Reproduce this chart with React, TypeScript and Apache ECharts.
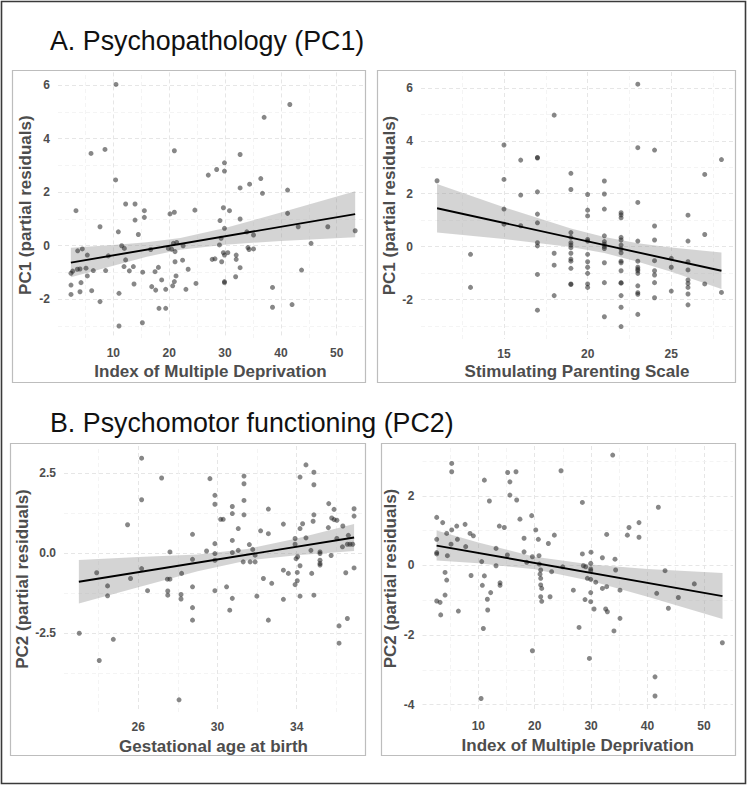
import React, { useEffect, useRef } from "react";
import * as echarts from "echarts";

const FONT = "'Liberation Sans', Arial, Helvetica, sans-serif";

// ---------------- Panel A1: Index of Multiple Deprivation vs PC1 ----------------
const imdPc1Points: number[][] = [
  [10.48, 6.03], [6.01, 3.45], [8.51, 3.6], [10.42, 2.46], [3.32, 1.31], [12.21, 1.56], [13.89, 1.56],
  [15.56, 1.31], [15.56, 1.06], [13.89, 0.96], [20.15, 1.19], [20.93, 1.25], [20.93, 3.55], [7.62, 0.71],
  [10.9, 0.52], [14.48, 0.42], [3.62, -0.19], [4.45, -0.12], [5.35, -0.35], [9.11, -0.38], [11.5, 0.0],
  [11.98, -0.1], [12.21, -0.53], [2.43, -1.03], [2.72, -0.95], [3.56, -0.88], [4.04, -0.87], [5.11, -0.84],
  [6.42, -0.93], [5.35, -1.13], [8.63, -0.93], [11.92, -0.78], [12.87, -0.94], [13.59, -0.78], [15.26, -0.99],
  [2.43, -1.47], [4.22, -1.38], [6.13, -1.68], [4.04, -1.72], [2.43, -1.82], [7.62, -2.09], [11.02, -1.78],
  [13.71, -1.43], [16.88, -1.53], [17.59, -1.66], [19.38, -1.63], [18.66, -1.28], [17.47, -0.97], [18.07, -0.81],
  [20.63, -1.5], [20.93, -1.34], [21.23, -1.13], [19.85, -0.1], [20.45, -0.13], [20.75, 0.09], [21.05, -0.22],
  [21.35, 0.12], [16.69, -0.14], [18.18, -2.34], [19.38, -2.34], [11.02, -3.0], [15.2, -2.88], [21.05, -0.6],
  [41.6, 5.28], [37.0, 4.8], [32.7, 3.41], [29.9, 3.1], [28.5, 2.85], [29.9, 2.79], [27.0, 2.64], [36.4, 2.51],
  [34.4, 2.3], [32.7, 2.16], [36.7, 1.96], [41.2, 2.08], [24.6, 1.33], [29.7, 1.42], [30.8, 1.31], [29.1, 0.94],
  [32.7, 1.0], [29.9, 0.65], [41.2, 1.21], [43.1, 0.71], [48.4, 0.71], [53.3, 0.56], [33.9, 0.52], [35.1, 0.4],
  [29.3, 0.28], [29.0, 0.03], [22.5, 0.0], [45.4, 0.09], [29.7, -0.26], [30.5, -0.26], [29.9, -0.35], [32.0, -0.35],
  [32.0, -0.51], [34.1, -0.07], [34.3, -0.14], [35.1, -0.12], [27.7, -0.51], [28.2, -0.49], [29.4, -0.6],
  [22.4, -0.54], [23.4, -0.88], [32.7, -0.82], [43.7, -0.91], [31.9, -1.16], [29.9, -1.34], [29.9, -1.38],
  [24.8, -1.41], [23.0, -1.63], [38.5, -1.56], [38.5, -2.3], [42.0, -2.2],
];
const imdPc1FitX = [2.4, 53.3];
const imdPc1FitY = [-0.63, 1.18];
const imdPc1BandX = [2.4, 10, 16, 22, 30, 40, 53.3];
const imdPc1BandLow = [-1.18, -0.75, -0.41, -0.15, 0.04, 0.18, 0.32];
const imdPc1BandHigh = [-0.08, 0.03, 0.13, 0.29, 0.66, 1.24, 2.04];

// ---------------- Panel A2: Stimulating Parenting Scale vs PC1 ----------------
const spsPc1Points: number[][] = [
  [11, 2.49],
  [13, -0.29], [13, -1.54],
  [15, 3.84], [15, 2.54], [15, 1.42], [15, 0.85],
  [16, 3.27], [16, 1.95], [16, 0.79],
  [17, 3.37], [17, 3.35], [17, 2.07], [17, 1.23], [17, 0.9], [17, 0.15], [17, 0.03], [17, -1.05], [17, -2.4],
  [18, 4.97], [18, -0.25], [18, -0.7], [18, -1.85],
  [19, 2.77], [19, 2.16], [19, 0.53], [19, 0.35], [19, 0.15], [19, 0.06], [19, -0.04], [19, -0.25], [19, -0.47],
  [19, -0.55], [19, -0.82], [19, -1.41], [19, -1.43],
  [20, 1.97], [20, 1.38], [20, 1.16], [20, 0.27], [20, 0.21], [20, -0.29], [20, -0.57], [20, -0.78], [20, -1.01],
  [20, -1.41], [20, -1.54],
  [21, 2.48], [21, 1.99], [21, 1.42], [21, 0.41], [21, 0.19], [21, 0.09], [21, 0.0], [21, -0.07], [21, -0.61],
  [21, -1.36], [21, -2.65],
  [22, 1.28], [22, 1.2], [22, 1.09], [22, 0.35], [22, 0.25], [22, 0.06], [22, -0.09], [22, -0.23], [22, -0.55],
  [22, -0.61], [22, -0.91], [22, -1.36], [22, -1.38], [22, -1.85], [22, -2.29], [22, -3.02],
  [23, 6.14], [23, 3.74], [23, 1.67], [23, 0.21], [23, -0.55], [23, -0.78], [23, -0.85], [23, -0.91], [23, -1.01],
  [23, -1.48], [23, -1.74], [23, -1.8], [23, -2.56],
  [24, 3.65], [24, 0.78], [24, 0.25], [24, -0.53], [24, -0.91], [24, -1.07], [24, -1.36], [24, -1.93],
  [25, -0.44], [25, -0.78], [25, -1.68],
  [26, 1.19], [26, 0.21], [26, -0.57], [26, -0.88], [26, -1.26], [26, -1.39], [26, -1.54], [26, -1.79], [26, -2.2],
  [27, 2.73], [27, 0.46], [27, -1.41],
  [28, 3.29], [28, -1.73],
];
const spsPc1FitX = [11, 28];
const spsPc1FitY = [1.45, -0.91];
const spsPc1BandX = [11, 15, 19, 21, 23, 25, 28];
const spsPc1BandLow = [0.53, 0.29, -0.01, -0.24, -0.57, -0.95, -1.6];
const spsPc1BandHigh = [2.37, 1.49, 0.69, 0.36, 0.13, -0.03, -0.22];

// ---------------- Panel B1: Gestational age vs PC2 ----------------
const gaPc2Points: number[][] = [
  [26.17, 2.97], [27.18, 2.35], [26.17, 1.67], [25.46, 0.89], [28.74, 0.59], [27.6, 0.04], [28.74, -0.19],
  [23.9, -0.61], [26.17, -0.48], [28.19, -0.63], [25.61, -0.79], [27.47, -0.81], [27.6, -0.81], [24.45, -1.02],
  [24.45, -1.33], [26.47, -1.17], [27.49, -1.18], [27.49, -1.31], [28.16, -1.29], [28.16, -1.43], [28.74, -1.05],
  [28.74, -1.7], [28.74, -2.09], [23.02, -2.5], [24.74, -2.69], [24.03, -3.35], [28.06, -4.58],
  [34.47, 2.76], [34.87, 2.53], [34.17, 2.38], [34.87, 2.14], [29.62, 2.33], [31.34, 2.41], [31.34, 2.17],
  [29.87, 1.81], [29.87, 1.53], [31.34, 1.65], [30.75, 1.46], [30.75, 1.24], [31.34, 1.2], [32.57, 1.38],
  [30.16, 1.06], [30.29, 1.06], [31.05, 0.77], [32.18, 0.7], [32.57, 0.61], [33.33, 0.91], [34.17, 0.77],
  [34.3, 0.92], [34.83, 1.0], [34.87, 1.2], [35.62, 1.55], [35.89, 1.37], [35.77, 1.1], [35.89, 1.05],
  [36.03, 1.03], [35.6, 0.8], [36.33, 0.85], [36.9, 1.39], [36.9, 1.16], [29.45, 0.07], [29.87, 0.3],
  [29.87, -0.01], [29.87, -0.22], [30.75, 0.4], [30.75, 0.02], [31.05, 0.09], [31.3, -0.27], [31.61, 0.27],
  [31.78, 0.12], [31.65, -0.27], [31.9, -0.06], [31.9, -0.27], [33.33, -0.53], [33.58, -0.63], [33.92, 0.46],
  [33.92, 0.28], [33.97, -0.17], [34.05, -0.11], [34.17, -0.39], [34.03, -0.6], [34.03, -0.86], [33.92, -0.98],
  [34.47, 0.48], [34.72, 0.09], [34.76, -0.63], [35.18, 0.04], [35.18, -0.01], [35.18, -0.22], [35.18, -0.32],
  [35.18, -0.37], [35.74, -0.07], [36.03, 0.46], [36.31, 0.2], [36.56, 0.28], [36.69, 0.28], [36.83, 0.28],
  [36.61, 0.56], [36.48, -0.61], [36.9, -0.46], [32.32, -0.79], [32.74, -0.94], [30.46, -1.05], [31.99, -1.34],
  [30.75, -1.41], [29.87, -1.17], [30.62, -1.78], [33.33, -1.44], [34.17, -1.34], [34.87, -1.31], [32.57, -2.09],
  [36.14, -2.27], [36.56, -2.04], [36.14, -2.81],
];
const gaPc2FitX = [23, 36.9];
const gaPc2FitY = [-0.89, 0.49];
const gaPc2BandX = [23, 26, 29, 31.5, 34, 36.9];
const gaPc2BandLow = [-1.57, -1.06, -0.56, -0.23, -0.06, 0.07];
const gaPc2BandHigh = [-0.21, -0.12, -0.04, 0.13, 0.46, 0.91];

// ---------------- Panel B2: Index of Multiple Deprivation vs PC2 ----------------
const imdPc2Points: number[][] = [
  [5.28, 2.93], [5.28, 2.69], [11.07, 2.45], [15.2, 2.67], [16.68, 2.69], [15.6, 2.4], [15.6, 2.02], [16.8, 1.88],
  [11.96, 1.85], [2.62, 1.38], [3.68, 1.23], [5.28, 1.02], [6.17, 1.13], [7.65, 1.18], [4.39, 0.92], [8.53, 0.92],
  [9.12, 0.85], [6.29, 0.75], [2.62, 0.75], [13.72, 1.13], [14.6, 1.09], [17.38, 1.33], [19.46, 1.43], [20.18, 1.02],
  [18.11, 0.78], [20.64, 0.75], [23.48, 0.87], [22.42, 0.63], [5.16, 0.61], [7.76, 0.54], [2.62, 0.37], [2.62, 0.33],
  [4.51, 0.28], [13.14, 0.49], [15.15, 0.3], [18.11, 0.39], [19.58, 0.25], [20.76, 0.28], [18.58, 0.09], [10.6, 0.11],
  [20.82, 0.04], [21.06, -0.13], [20.94, -0.25], [21.06, -0.37], [21.06, -0.56], [21.24, -0.66], [21.06, -0.9],
  [21.24, -1.03], [22.72, -0.9], [23.0, -0.18], [24.96, -0.04], [13.14, -0.01], [4.1, -0.2], [4.39, -0.42],
  [4.1, -0.85], [2.62, -1.02], [3.22, -1.06], [3.33, -1.42], [6.46, -1.31], [8.71, -0.29], [11.07, -0.3],
  [13.85, -0.5], [13.85, -0.57], [10.71, -0.57], [12.19, -0.78], [11.6, -0.97], [11.66, -1.28], [10.89, -1.81],
  [19.58, -2.45], [10.49, -3.82],
  [24.66, 2.72], [33.83, 3.17], [28.45, 1.81], [41.92, 1.67], [38.49, 1.23], [36.72, 1.09], [36.43, 0.87],
  [38.49, 0.81], [32.76, 0.89], [28.45, 0.33], [29.98, 0.38], [28.63, -0.01], [29.05, -0.04], [29.93, 0.06],
  [29.93, -0.1], [29.93, -0.15], [32.0, 0.22], [34.24, 0.18], [34.35, -0.13], [29.33, -0.37], [29.93, -0.4],
  [30.82, -0.48], [32.0, -0.66], [32.76, -0.61], [26.85, -0.71], [29.93, -0.78], [35.12, -0.71], [28.92, -0.98],
  [29.93, -1.04], [30.52, -1.25], [32.58, -1.25], [32.88, -1.33], [35.12, -1.52], [27.86, -1.78], [34.05, -1.88],
  [43.11, -0.15], [48.3, -0.53], [41.63, -0.8], [45.47, -0.92], [43.7, -1.23], [53.27, -2.22], [29.69, -2.67],
  [41.33, -3.2], [41.33, -3.75],
];
const imdPc2FitX = [2.6, 53.3];
const imdPc2FitY = [0.57, -0.88];
const imdPc2BandX = [2.6, 10, 20, 30, 40, 53.3];
const imdPc2BandLow = [0.14, 0.06, -0.11, -0.45, -0.9, -1.54];
const imdPc2BandHigh = [1.0, 0.66, 0.25, 0.03, -0.1, -0.22];

// ---------------- Texts and ticks ----------------
const sectionTitles = ["A. Psychopathology (PC1)", "B. Psychomotor functioning (PC2)"];
const xNames = [
  "Index of Multiple Deprivation",
  "Stimulating Parenting Scale",
  "Gestational age at birth",
  "Index of Multiple Deprivation",
];
const yNames = [
  "PC1 (partial residuals)",
  "PC1 (partial residuals)",
  "PC2 (partial residuals)",
  "PC2 (partial residuals)",
];
const xTicks = [[10, 20, 30, 40, 50], [15, 20, 25], [26, 30, 34], [10, 20, 30, 40, 50]];
const yTicks = [[-2, 0, 2, 4, 6], [-2, 0, 2, 4, 6], [-2.5, 0, 2.5], [-4, -2, 0, 2]];
const xMinor = [[5, 15, 25, 35, 45], [12.5, 17.5, 22.5, 27.5], [24, 28, 32, 36], [5, 15, 25, 35, 45]];
const yMinor = [[-3, -1, 1, 3, 5], [-3, -1, 1, 3, 5], [-3.75, -1.25, 1.25], [-3, -1, 1, 3]];
const yDecimals = [0, 0, 1, 0];

// ---------------- Layout (pixels / axis extents) ----------------
const layout = [
  { left: 58, top: 72.4, width: 305, height: 265.6, xMin: 0.1, xMax: 54.7, yMin: -3.45, yMax: 6.48, yGap: 24.5, xGap: 25, box: [12, 70, 353, 312] },
  { left: 421, top: 72, width: 312, height: 267, xMin: 10.04, xMax: 28.69, yMin: -3.49, yMax: 6.6, yGap: 21, xGap: 24, box: [377, 70, 358, 312] },
  { left: 64, top: 446, width: 299, height: 266, xMin: 22.25, xMax: 37.35, yMin: -4.96, yMax: 3.35, yGap: 30.5, xGap: 26, box: [10, 443, 355, 312] },
  { left: 422.5, top: 446, width: 310.5, height: 265, xMin: 0.1, xMax: 55.16, yMin: -4.18, yMax: 3.43, yGap: 24, xGap: 25.5, box: [381, 443, 354, 312] },
];

const panelPoints = [imdPc1Points, spsPc1Points, gaPc2Points, imdPc2Points];
const panelFitX = [imdPc1FitX, spsPc1FitX, gaPc2FitX, imdPc2FitX];
const panelFitY = [imdPc1FitY, spsPc1FitY, gaPc2FitY, imdPc2FitY];
const panelBandX = [imdPc1BandX, spsPc1BandX, gaPc2BandX, imdPc2BandX];
const panelBandLow = [imdPc1BandLow, spsPc1BandLow, gaPc2BandLow, imdPc2BandLow];
const panelBandHigh = [imdPc1BandHigh, spsPc1BandHigh, gaPc2BandHigh, imdPc2BandHigh];

function buildOption() {
  const grid: any[] = [];
  const xAxis: any[] = [];
  const yAxis: any[] = [];
  const series: any[] = [];
  const graphic: any[] = [];

  layout.forEach((L, i) => {
    grid.push({ left: L.left, top: L.top, width: L.width, height: L.height, containLabel: false });
    xAxis.push({
      type: "value",
      gridIndex: i,
      min: L.xMin,
      max: L.xMax,
      axisLine: { show: false },
      axisTick: { show: false, customValues: xTicks[i] },
      axisLabel: {
        customValues: xTicks[i],
        color: "#4d4d4d",
        fontWeight: "bold",
        fontSize: 12,
        fontFamily: FONT,
        margin: 9,
      },
      splitLine: { show: true, lineStyle: { color: "#e6e6e6", type: [4, 3], width: 1 } },
      name: xNames[i],
      nameLocation: "middle",
      nameGap: L.xGap,
      nameTextStyle: { color: "#4d4d4d", fontWeight: "bold", fontSize: 17, fontFamily: FONT },
    });
    yAxis.push({
      type: "value",
      gridIndex: i,
      min: L.yMin,
      max: L.yMax,
      axisLine: { show: false },
      axisTick: { show: false, customValues: yTicks[i] },
      axisLabel: {
        customValues: yTicks[i],
        color: "#4d4d4d",
        fontWeight: "bold",
        fontSize: 12,
        fontFamily: FONT,
        margin: 8,
        formatter: (v: number) => v.toFixed(yDecimals[i]),
      },
      splitLine: { show: true, lineStyle: { color: "#e6e6e6", type: [4, 3], width: 1 } },
      name: yNames[i],
      nameLocation: "middle",
      nameGap: L.yGap,
      nameRotate: 90,
      nameTextStyle: { color: "#4d4d4d", fontWeight: "bold", fontSize: 17, fontFamily: FONT },
    });

    const bx = panelBandX[i];
    const bl = panelBandLow[i];
    const bh = panelBandHigh[i];
    const bandRows = bx.map((x, k) => [x, bl[k], bh[k]]);

    series.push({
      type: "custom",
      xAxisIndex: i,
      yAxisIndex: i,
      silent: true,
      data: bandRows,
      encode: { x: 0, y: [1, 2] },
      renderItem: (params: any, api: any) => {
        if (params.dataIndex !== 0) return null;
        const pts: number[][] = [];
        for (let k = 0; k < bandRows.length; k++) pts.push(api.coord([bandRows[k][0], bandRows[k][1]]));
        for (let k = bandRows.length - 1; k >= 0; k--) pts.push(api.coord([bandRows[k][0], bandRows[k][2]]));
        return { type: "polygon", shape: { points: pts }, style: { fill: "rgba(153,153,153,0.42)", stroke: "none" } };
      },
      z: 2,
      markLine: {
        silent: true,
        z: 1,
        symbol: ["none", "none"],
        label: { show: false },
        lineStyle: { color: "#f1f1f1", type: [4, 3], width: 0.8 },
        data: [
          ...xMinor[i].map((v) => ({ xAxis: v })),
          ...yMinor[i].map((v) => ({ yAxis: v })),
        ],
        animation: false,
      },
    });

    series.push({
      type: "scatter",
      xAxisIndex: i,
      yAxisIndex: i,
      data: panelPoints[i],
      symbol: "circle",
      symbolSize: 5,
      itemStyle: { color: "rgba(35,35,35,0.68)" },
      silent: true,
      z: 3,
    });

    series.push({
      type: "line",
      xAxisIndex: i,
      yAxisIndex: i,
      data: panelFitX[i].map((x, k) => [x, panelFitY[i][k]]),
      showSymbol: false,
      symbol: "none",
      lineStyle: { color: "#000", width: 1.9 },
      silent: true,
      z: 4,
    });

    const b = L.box;
    graphic.push({
      type: "rect",
      shape: { x: b[0] + 0.5, y: b[1] + 0.5, width: b[2], height: b[3] },
      style: { fill: "none", stroke: "#bdbdbd", lineWidth: 1.2 },
      silent: true,
      z: 0,
    });
  });

  graphic.push({
    type: "rect",
    shape: { x: 1.5, y: 1.5, width: 744, height: 782 },
    style: { fill: "none", stroke: "#3a3a3a", lineWidth: 1.6 },
    silent: true,
  });
  graphic.push({
    type: "text",
    x: 50,
    y: 41,
    style: { text: sectionTitles[0], fontSize: 26.8, fontFamily: FONT, fill: "#111", verticalAlign: "middle", align: "left" },
    silent: true,
  });
  graphic.push({
    type: "text",
    x: 50,
    y: 423,
    style: { text: sectionTitles[1], fontSize: 26.8, fontFamily: FONT, fill: "#111", verticalAlign: "middle", align: "left" },
    silent: true,
  });

  return {
    animation: false,
    backgroundColor: "#ffffff",
    grid,
    xAxis,
    yAxis,
    series,
    graphic,
  };
}

export default function App() {
  const ref = useRef<HTMLDivElement>(null);
  useEffect(() => {
    if (!ref.current) return;
    const chart = echarts.init(ref.current, null, { renderer: "svg" });
    chart.setOption(buildOption());
    return () => {
      chart.dispose();
    };
  }, []);
  return (
    <div
      ref={ref}
      style={{ position: "fixed", left: 0, top: 0, width: 748, height: 785, background: "#fff" }}
    />
  );
}
